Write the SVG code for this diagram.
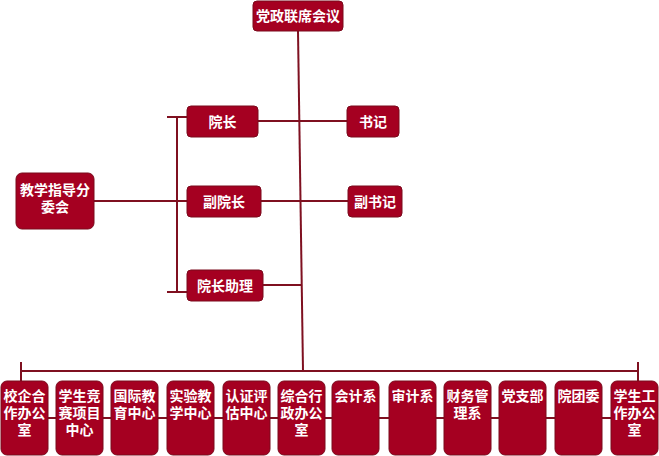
<svg xmlns="http://www.w3.org/2000/svg" width="659" height="456" viewBox="0 0 659 456">
<style>
.n{fill:#A50021;stroke:#7A0A1C;stroke-width:1}
.t{fill:#fff;font-family:"Liberation Sans","Noto Sans CJK SC","Noto Sans CJK TC",sans-serif;font-weight:bold;font-size:14px;text-anchor:middle}
.c line{stroke:#7F1020;stroke-width:2;fill:none}
</style>
<rect width="659" height="456" fill="#fff"/>
<g class="c" id="connectors">
<line x1="298" y1="31" x2="303" y2="371"/>
<line x1="258" y1="121" x2="347" y2="121"/>
<line x1="261" y1="201" x2="348" y2="201"/>
<line x1="94" y1="201" x2="187" y2="201"/>
<line x1="177" y1="117" x2="177" y2="292"/>
<line x1="167" y1="117" x2="187" y2="117"/>
<line x1="167" y1="292" x2="187" y2="292"/>
<line x1="263" y1="285" x2="302" y2="285"/>
<line x1="21" y1="371" x2="638" y2="371"/>
<line x1="21" y1="362" x2="21" y2="381"/>
<line x1="638" y1="362" x2="638" y2="381"/>
<line x1="40" y1="418" x2="620" y2="418"/>
</g>
<g id="n0"><rect class="n" x="253" y="1" width="90" height="30" rx="4"/><text class="t" x="298" y="21">党政联席会议</text></g>
<g id="n1"><rect class="n" x="187" y="106" width="71" height="31" rx="4"/><text class="t" x="222.5" y="126.5">院长</text></g>
<g id="n2"><rect class="n" x="347" y="106" width="52" height="31" rx="4"/><text class="t" x="373" y="126.5">书记</text></g>
<g id="n3"><rect class="n" x="187" y="186" width="74" height="31" rx="4"/><text class="t" x="224" y="206.5">副院长</text></g>
<g id="n4"><rect class="n" x="348" y="186" width="54" height="31" rx="4"/><text class="t" x="375" y="206.5">副书记</text></g>
<g id="n5"><rect class="n" x="16" y="173" width="78" height="56" rx="6"/><text class="t" x="55" y="195">教学指导分<tspan x="55" dy="17">委会</tspan></text></g>
<g id="n6"><rect class="n" x="187" y="270" width="76" height="31" rx="4"/><text class="t" x="225" y="290.5">院长助理</text></g>
<g id="b1"><rect class="n" x="1" y="381" width="47" height="74" rx="6"/><text class="t" x="24.5" y="401">校企合<tspan x="24.5" dy="17">作办公</tspan><tspan x="24.5" dy="17">室</tspan></text></g>
<g id="b2"><rect class="n" x="56" y="381" width="47" height="74" rx="6"/><text class="t" x="79.5" y="401">学生竞<tspan x="79.5" dy="17">赛项目</tspan><tspan x="79.5" dy="17">中心</tspan></text></g>
<g id="b3"><rect class="n" x="111" y="381" width="47" height="74" rx="6"/><text class="t" x="134.5" y="401">国际教<tspan x="134.5" dy="17">育中心</tspan></text></g>
<g id="b4"><rect class="n" x="167" y="381" width="47" height="74" rx="6"/><text class="t" x="190.5" y="401">实验教<tspan x="190.5" dy="17">学中心</tspan></text></g>
<g id="b5"><rect class="n" x="223" y="381" width="47" height="74" rx="6"/><text class="t" x="246.5" y="401">认证评<tspan x="246.5" dy="17">估中心</tspan></text></g>
<g id="b6"><rect class="n" x="278" y="381" width="47" height="74" rx="6"/><text class="t" x="301.5" y="401">综合行<tspan x="301.5" dy="17">政办公</tspan><tspan x="301.5" dy="17">室</tspan></text></g>
<g id="b7"><rect class="n" x="332" y="381" width="47" height="74" rx="6"/><text class="t" x="355.5" y="401">会计系</text></g>
<g id="b8"><rect class="n" x="389" y="381" width="47" height="74" rx="6"/><text class="t" x="412.5" y="401">审计系</text></g>
<g id="b9"><rect class="n" x="444" y="381" width="47" height="74" rx="6"/><text class="t" x="467.5" y="401">财务管<tspan x="467.5" dy="17">理系</tspan></text></g>
<g id="b10"><rect class="n" x="499" y="381" width="47" height="74" rx="6"/><text class="t" x="522.5" y="401">党支部</text></g>
<g id="b11"><rect class="n" x="555" y="381" width="47" height="74" rx="6"/><text class="t" x="578.5" y="401">院团委</text></g>
<g id="b12"><rect class="n" x="611" y="381" width="47" height="74" rx="6"/><text class="t" x="634.5" y="401">学生工<tspan x="634.5" dy="17">作办公</tspan><tspan x="634.5" dy="17">室</tspan></text></g>
</svg>
